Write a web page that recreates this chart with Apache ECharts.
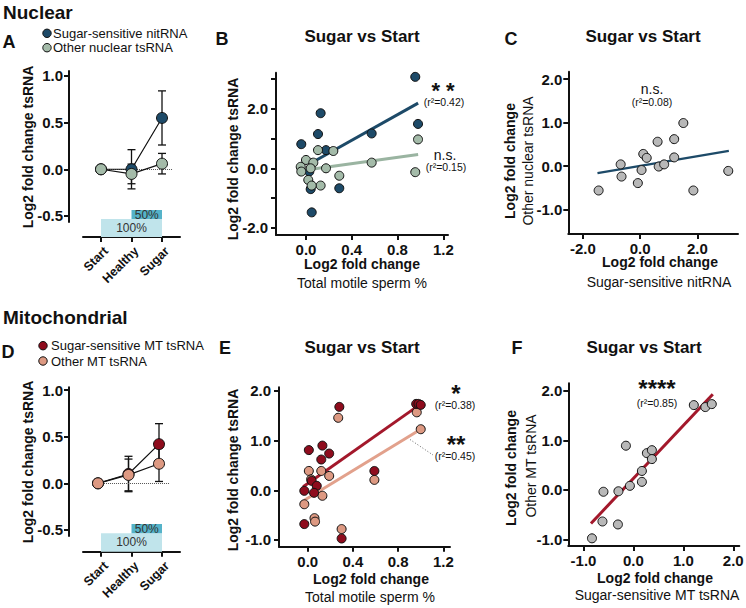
<!DOCTYPE html>
<html><head><meta charset="utf-8">
<script src="https://cdn.jsdelivr.net/npm/echarts@6/dist/echarts.min.js"></script>
<style>html,body{margin:0;padding:0;background:#fff}#chart{width:746px;height:608px}</style>
</head><body><div id="chart"></div>
<script>
// ---------------- data ----------------
const timeCategories = ['Start', 'Healthy', 'Sugar'];
const nitMean = [0, 0.00, 0.55];
const nitSem = [0, 0.21, 0.29];
const nucOtherMean = [0, -0.05, 0.06];
const nucOtherSem = [0, 0.105, 0.11];
const mtSensMean = [0, 0.10, 0.42];
const mtSensSem = [0, 0.19, 0.22];
const mtOtherMean = [0, 0.09, 0.21];
const mtOtherSem = [0, 0.17, 0.19];
const dietLabels = ['100%', '50%'];
const dietFrom = [0, 1];
const dietTo = [2, 2];
const dietShare = [1.0, 0.5];

const bNitX = [0.955, 0.128, 0.105, -0.041, 0.175, 0.574, 0.979, 0.291, 0.041, 0.05, 0.029];
const bNitY = [3.07, 1.85, 1.15, 0.81, 0.61, 1.17, 1.49, -0.67, -0.70, -1.48, -0.11];
const bOtherX = [0.979, 0.955, 0.574, 0.239, 0.105, 0.175, 0.291, 0.128, 0.02, 0.05, 0.0, -0.046, -0.041, 0.064, 0.041];
const bOtherY = [0.97, -0.13, 0.19, 0.58, 0.61, 0.0, -0.25, -0.58, -0.39, -0.58, 0.28, 0.05, -0.11, 0.19, 0.0];
const bNitFitX = [0.03, 0.98];
const bNitFitY = [0.145, 2.19];
const bOtherFitX = [0.03, 0.98];
const bOtherFitY = [-0.04, 0.46];

const cNitX = [-1.45, -0.68, -0.65, -0.08, 0.11, 0.23, 0.05, 0.61, 0.65, 0.84, 1.19, 1.19, 1.51, 1.86, 3.08];
const cOtherY = [-0.56, 0.04, -0.24, -0.39, 0.28, 0.19, -0.09, 0.56, -0.01, 0.04, 0.62, 0.20, 0.99, -0.56, -0.11];
const cFitX = [-1.49, 3.10];
const cFitY = [-0.16, 0.35];

const eSensX = [0.28, 0.01, 0.13, 0.19, 0.12, 0.035, 0.08, -0.03, 0.056, -0.03, 0.30, 0.59, 0.96, 0.98, 1.0];
const eSensY = [1.68, 0.81, 0.90, 0.74, 0.62, 0.19, 0.09, -0.01, -0.05, -0.68, -0.97, 0.39, 1.74, 1.74, 1.72];
const eOtherX = [0.27, 0.01, 0.12, 0.19, 0.03, 0.13, -0.03, 0.06, 0.065, 0.30, 0.59, 0.965, 1.0];
const eOtherY = [1.46, 0.39, 0.39, 0.29, 0.22, -0.11, -0.28, -0.56, -0.63, -0.78, 0.21, 1.57, 1.23];
const eSensFitX = [-0.04, 0.97];
const eSensFitY = [0.07, 1.69];
const eOtherFitX = [-0.03, 1.0];
const eOtherFitY = [-0.20, 1.23];

const fSensX = [-0.83, -0.62, -0.31, -0.60, -0.30, -0.07, 0.17, 0.17, -0.15, 0.27, 0.37, 0.37, 1.21, 1.44, 1.57];
const fOtherY = [-0.98, -0.64, -0.70, -0.04, -0.03, 0.08, 0.16, 0.38, 0.89, 0.74, 0.80, 0.62, 1.71, 1.67, 1.73];
const fFitX = [-0.85, 1.59];
const fFitY = [-0.68, 1.93];

// ---------------- style ----------------
const FONT = '"Liberation Sans", Arial, Helvetica, sans-serif';
const INK = '#111';
const NIT = '#1d4a68', NUC_OTHER = '#a4bba9', NUC_OTHER_LINE = '#9ab4a1';
const MT_SENS = '#8e0c1d', MT_SENS_LINE = '#a3182b', MT_OTHER = '#dd9982', MT_OTHER_LINE = '#e2a18c';
const GREY = '#b8b8b8';
const BAR_LIGHT = '#c0e4eb', BAR_DARK = '#55b3c9';

const fmt = v => (Math.abs(v) < 1e-9 ? 0 : v).toFixed(1);
const axLine = { color: INK, width: 2 };

function visAxis(kind, grid, min, max, ticks, labels, extra) {
  const a = {
    type: 'value', gridIndex: grid, min: min, max: max,
    axisLine: { show: true, onZero: false, lineStyle: axLine },
    axisTick: { show: true, customValues: ticks, length: 5, lineStyle: axLine },
    axisLabel: { show: true, customValues: labels, formatter: fmt, fontFamily: FONT, fontWeight: 'bold',
      fontSize: 15, color: INK, margin: kind === 'y' ? 8 : 7 },
    splitLine: { show: false }
  };
  if (extra) {
    for (const k in extra) {
      if (typeof extra[k] === 'object' && a[k]) Object.assign(a[k], extra[k]); else a[k] = extra[k];
    }
  }
  return a;
}
function hidAxis(grid, min, max) {
  return { type: 'value', gridIndex: grid, min: min, max: max, show: false,
    axisLine: { onZero: false }, splitLine: { show: false } };
}

const xAxes = [
  hidAxis(0, -0.59, 2.59),
  visAxis('x', 1, -0.59, 2.59, [0, 1, 2], [0, 1, 2], { axisLabel: { show: false } }),
  hidAxis(2, -0.59, 2.59),
  visAxis('x', 3, -0.59, 2.59, [0, 1, 2], [0, 1, 2], { axisLabel: { show: false } }),
  visAxis('x', 4, -0.262, 1.241, [0, 0.4, 0.8, 1.2], [0, 0.4, 0.8, 1.2]),
  visAxis('x', 5, -2.51, 3.42, [-2, 0, 2], [-2, 0, 2]),
  visAxis('x', 6, -0.254, 1.259, [0, 0.4, 0.8, 1.2], [0, 0.4, 0.8, 1.2]),
  visAxis('x', 7, -1.304, 2.121, [-1, 0, 1, 2], [-1, 0, 1, 2])
];
const yAxes = [
  visAxis('y', 0, -0.565, 1.053, [-0.5, 0, 0.5, 1], [-0.5, 0, 0.5, 1], { offset: 14, axisLabel: { margin: 6 } }),
  hidAxis(1, 0, 1.5),
  visAxis('y', 2, -0.565, 1.03, [-0.5, 0, 0.5, 1], [-0.5, 0, 0.5, 1], { offset: 11, axisLabel: { margin: 6 } }),
  hidAxis(3, 0, 1.5),
  visAxis('y', 4, -2.24, 3.21, [-2, -1, 0, 1, 2, 3], [-2, 0, 2]),
  visAxis('y', 5, -1.56, 2.17, [-1, 0, 1, 2], [-1, 0, 1, 2], { axisLabel: { margin: 6 } }),
  visAxis('y', 6, -1.135, 2.074, [-1, 0, 1, 2], [-1, 0, 1, 2]),
  visAxis('y', 7, -1.135, 2.15, [-1, 0, 1, 2], [-1, 0, 1, 2], { axisLabel: { margin: 6 } })
];

function errRender(params, api) {
  const x = api.value(0), m = api.value(1), e = api.value(2);
  if (!e) return null;
  const top = api.coord([x, m + e]), bot = api.coord([x, m - e]);
  const w = 4, st = { stroke: INK, lineWidth: 1.3 };
  return { type: 'group', children: [
    { type: 'line', shape: { x1: top[0], y1: top[1], x2: bot[0], y2: bot[1] }, style: st },
    { type: 'line', shape: { x1: top[0] - w, y1: top[1], x2: top[0] + w, y2: top[1] }, style: st },
    { type: 'line', shape: { x1: bot[0] - w, y1: bot[1], x2: bot[0] + w, y2: bot[1] }, style: st }
  ] };
}
function barsRender(params, api) {
  const i = params.dataIndex;
  const p0 = api.coord([api.value(0), api.value(2)]);
  const p1 = api.coord([api.value(1), api.value(2) + api.value(3)]);
  return { type: 'rect', shape: { x: p0[0], y: p1[1], width: p1[0] - p0[0], height: p0[1] - p1[1] },
    style: { fill: i === 0 ? BAR_LIGHT : BAR_DARK },
    textContent: { style: { text: dietLabels[i], font: '12px ' + FONT, fill: '#333', lineHeight: 9 } },
    textConfig: { position: 'inside' } };
}
function dietData() {
  let base = 0;
  return dietShare.map((s, i) => { const d = [dietFrom[i], dietTo[i], base, s]; base += s; return d; });
}
function timeLine(ax, mean, color, z, withZero) {
  const s = { type: 'line', xAxisIndex: ax, yAxisIndex: ax, data: mean.map((m, i) => [i, m]),
    symbol: 'circle', symbolSize: 11, itemStyle: { color: color, borderColor: INK, borderWidth: 1 },
    lineStyle: { color: INK, width: 1.2 }, z: z, silent: true };
  if (withZero) s.markLine = { silent: true, symbol: ['none', 'none'], label: { show: false },
    lineStyle: { type: 'dotted', color: '#555', width: 1 },
    data: [[{ coord: [-0.13, 0] }, { coord: [2.36, 0] }]] };
  return s;
}
function errSeries(ax, mean, sem) {
  return { type: 'custom', xAxisIndex: ax, yAxisIndex: ax, renderItem: errRender, z: 3, silent: true,
    data: mean.map((m, i) => [i, m, sem[i]]) };
}
function scatter(ax, xs, ys, color, z) {
  return { type: 'scatter', xAxisIndex: ax, yAxisIndex: ax, data: xs.map((x, i) => [x, ys[i]]),
    symbol: 'circle', symbolSize: 9, itemStyle: { color: color, borderColor: INK, borderWidth: 1, opacity: 1 }, z: z, silent: true };
}
function fit(ax, xs, ys, color, width) {
  return { type: 'line', xAxisIndex: ax, yAxisIndex: ax, data: xs.map((x, i) => [x, ys[i]]),
    symbol: 'none', lineStyle: { color: color, width: width }, z: 2, silent: true };
}

const series = [
  errSeries(0, nitMean, nitSem), errSeries(0, nucOtherMean, nucOtherSem),
  timeLine(0, nitMean, NIT, 5, true), timeLine(0, nucOtherMean, NUC_OTHER, 6, false),
  { type: 'custom', xAxisIndex: 1, yAxisIndex: 1, renderItem: barsRender, data: dietData(), silent: true },
  errSeries(2, mtSensMean, mtSensSem), errSeries(2, mtOtherMean, mtOtherSem),
  timeLine(2, mtSensMean, MT_SENS, 5, true), timeLine(2, mtOtherMean, MT_OTHER, 6, false),
  { type: 'custom', xAxisIndex: 3, yAxisIndex: 3, renderItem: barsRender, data: dietData(), silent: true },
  fit(4, bNitFitX, bNitFitY, NIT, 3), fit(4, bOtherFitX, bOtherFitY, NUC_OTHER_LINE, 3),
  scatter(4, bNitX, bNitY, NIT, 4), scatter(4, bOtherX, bOtherY, NUC_OTHER, 5),
  fit(5, cFitX, cFitY, NIT, 2.2), scatter(5, cNitX, cOtherY, GREY, 4),
  fit(6, eSensFitX, eSensFitY, MT_SENS_LINE, 3), fit(6, eOtherFitX, eOtherFitY, MT_OTHER_LINE, 3),
  scatter(6, eOtherX, eOtherY, MT_OTHER, 4), scatter(6, eSensX, eSensY, MT_SENS, 5),
  fit(7, fFitX, fFitY, MT_SENS_LINE, 3), scatter(7, fSensX, fOtherY, GREY, 4)
];

function T(x, y, text, size, weight, o) {
  o = o || {};
  const st = { text: text, font: (weight || 'normal') + ' ' + size + 'px ' + FONT, fill: o.fill || INK,
      align: o.align || 'center', verticalAlign: 'middle' };
  if (o.lh) st.lineHeight = o.lh;
  return { type: 'text', x: x, y: y, rotation: o.rot || 0, z: 100, silent: true, style: st };
}
const R90 = Math.PI / 2;
function dot(cx, cy, color, r) {
  return { type: 'circle', shape: { cx: cx, cy: cy, r: r || 4.2 }, style: { fill: color, stroke: INK, lineWidth: 1 }, z: 100, silent: true };
}
const graphics = [
  T(3, 12, 'Nuclear', 19, 'bold', { align: 'left' }),
  T(3, 317, 'Mitochondrial', 19, 'bold', { align: 'left' }),
  T(9, 42, 'A', 18, 'bold'), T(222, 39, 'B', 18, 'bold'), T(511, 39, 'C', 18, 'bold'),
  T(8, 352, 'D', 18, 'bold'), T(225, 348, 'E', 18, 'bold'), T(517, 348, 'F', 18, 'bold'),
  dot(47, 33.3, NIT), T(53, 33.3, 'Sugar-sensitive nitRNA', 13, 'normal', { align: 'left' }),
  dot(47, 47.7, NUC_OTHER), T(53, 47.7, 'Other nuclear tsRNA', 13, 'normal', { align: 'left' }),
  dot(43, 345.7, MT_SENS), T(51, 345.7, 'Sugar-sensitive MT tsRNA', 13, 'normal', { align: 'left' }),
  dot(43, 361, MT_OTHER), T(51, 361, 'Other MT tsRNA', 13, 'normal', { align: 'left' }),
  T(362, 36, 'Sugar vs Start', 17, 'bold'), T(643, 36, 'Sugar vs Start', 17, 'bold'),
  T(362, 347, 'Sugar vs Start', 17, 'bold'), T(644, 347, 'Sugar vs Start', 17, 'bold'),
  T(28, 147, 'Log2 fold change tsRNA', 14, 'bold', { rot: R90 }),
  T(28, 462, 'Log2 fold change tsRNA', 14, 'bold', { rot: R90 }),
  T(233, 159, 'Log2 fold change tsRNA', 14, 'bold', { rot: R90 }),
  T(362, 264, 'Log2 fold change', 14, 'bold'), T(362, 283, 'Total motile sperm %', 14, 'normal'),
  T(510, 161, 'Log2 fold change', 14, 'bold', { rot: R90 }),
  T(527.5, 161, 'Other nuclear tsRNA', 14, 'normal', { rot: R90 }),
  T(660, 261.5, 'Log2 fold change', 14, 'bold'), T(659, 281.5, 'Sugar-sensitive nitRNA', 14, 'normal'),
  T(233, 470, 'Log2 fold change tsRNA', 14, 'bold', { rot: R90 }),
  T(371, 579, 'Log2 fold change', 14, 'bold'), T(370, 596.5, 'Total motile sperm %', 14, 'normal'),
  T(511, 468, 'Log2 fold change', 14, 'bold', { rot: R90 }),
  T(531, 466, 'Other MT tsRNA', 14, 'normal', { rot: R90 }),
  T(655, 577.5, 'Log2 fold change', 14, 'bold'), T(657, 595, 'Sugar-sensitive MT tsRNA', 14, 'normal'),
  T(443, 90, '* *', 22, 'bold', { lh: 10 }), T(444, 101.5, '(r²=0.42)', 10.5, 'normal', { lh: 11 }),
  T(445, 155, 'n.s.', 14, 'normal', { lh: 11 }), T(446, 167, '(r²=0.15)', 10.5, 'normal', { lh: 11 }),
  T(652, 89, 'n.s.', 14, 'normal', { lh: 11 }), T(652, 102, '(r²=0.08)', 10.5, 'normal', { lh: 11 }),
  T(456, 393, '*', 24, 'bold', { lh: 10 }), T(455, 404.5, '(r²=0.38)', 10.5, 'normal', { lh: 11 }),
  T(456, 444, '**', 24, 'bold', { lh: 10 }), T(455, 456, '(r²=0.45)', 10.5, 'normal', { lh: 11 }),
  { type: 'line', shape: { x1: 410, y1: 439.5, x2: 433, y2: 455 }, style: { stroke: '#666', lineWidth: 1, lineDash: [1, 2] }, z: 100, silent: true },
  T(657, 388, '****', 24, 'bold', { lh: 10 }), T(657, 403, '(r²=0.85)', 10.5, 'normal', { lh: 11 })
];

const chart = echarts.init(document.getElementById('chart'), null, { renderer: 'svg', width: 746, height: 608 });
chart.setOption({
  animation: false,
  backgroundColor: '#fff',
  textStyle: { fontFamily: FONT },
  grid: [
    { left: 83, top: 71, width: 97, height: 151 },
    { left: 83, top: 210, width: 97, height: 27 },
    { left: 80, top: 387.3, width: 97, height: 148.7 },
    { left: 83, top: 524, width: 97, height: 27.7 },
    { left: 276, top: 72.7, width: 172, height: 162.3 },
    { left: 568.3, top: 71.7, width: 169.7, height: 162.3 },
    { left: 279, top: 387.3, width: 171, height: 159.4 },
    { left: 568.3, top: 383.3, width: 171, height: 162.7 }
  ].map(g => Object.assign({ containLabel: false, outerBoundsMode: 'none' }, g)),
  xAxis: xAxes,
  yAxis: yAxes,
  series: series,
  graphic: graphics
});

// rotated category labels, anchored at the axis ticks through the axis scale
const catLabels = [];
[1, 3].forEach(g => {
  timeCategories.forEach((c, i) => {
    const p = chart.convertToPixel({ gridIndex: g }, [i, 0]);
    catLabels.push(T(p[0] + 5, p[1] + 12, c, 12.5, 'bold', { rot: Math.PI / 4, align: 'right', lh: 12 }));
  });
});
chart.setOption({ graphic: graphics.concat(catLabels) });
</script></body></html>
